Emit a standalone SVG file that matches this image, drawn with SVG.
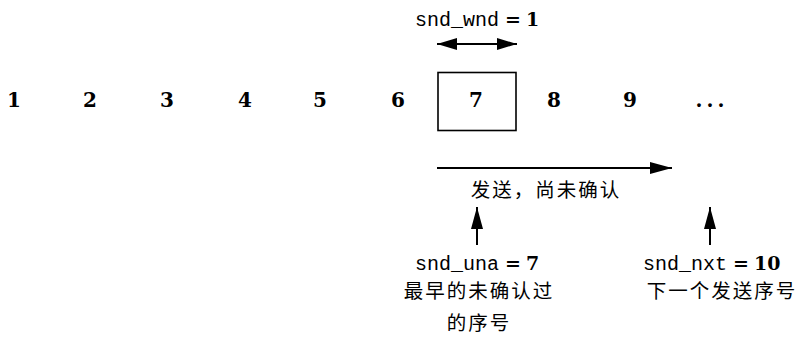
<svg xmlns="http://www.w3.org/2000/svg" width="804" height="339" viewBox="0 0 804 339">
<style>
.num{font-family:"DejaVu Serif","Liberation Serif",serif;font-weight:bold;font-size:20px;text-anchor:middle;fill:#000}
.mono{font-family:"Liberation Mono","DejaVu Sans Mono",monospace;font-size:20px;fill:#000}
.eq{font-family:"DejaVu Serif","Liberation Serif",serif;font-size:19px;font-weight:bold}
.cjk{font-family:"Noto Sans CJK SC","Noto Sans",sans-serif;font-size:19.5px;fill:#000;text-anchor:middle}
.line{stroke:#000;stroke-width:2;fill:none}
</style>
<defs>
<marker id="ah" viewBox="0 0 20 12" refX="20" refY="6" markerWidth="20" markerHeight="12" markerUnits="userSpaceOnUse" orient="auto-start-reverse">
<path d="M0,0 L20,6 L0,12 Z" fill="#000"/>
</marker>
<marker id="au" viewBox="0 0 22 12" refX="22" refY="6" markerWidth="22" markerHeight="12" markerUnits="userSpaceOnUse" orient="auto">
<path d="M0,0 L22,6 L0,12 Z" fill="#000"/>
</marker>
</defs>
<rect width="804" height="339" fill="#fff"/>
<g id="wnd-label">
<text x="415" y="26"><tspan class="mono">snd_wnd</tspan><tspan class="eq" dx="6">=</tspan><tspan class="eq" dx="5">1</tspan></text>
</g>
<g id="n1"><text class="num" x="14" y="107">1</text></g>
<g id="n2"><text class="num" x="90" y="107">2</text></g>
<g id="n3"><text class="num" x="167" y="107">3</text></g>
<g id="n4"><text class="num" x="245" y="107">4</text></g>
<g id="n5"><text class="num" x="320" y="107">5</text></g>
<g id="n6"><text class="num" x="398" y="107">6</text></g>
<g id="n7"><rect x="438" y="72.5" width="78" height="58" fill="none" stroke="#000" stroke-width="1.6"/><text class="num" x="476" y="107">7</text></g>
<g id="n8"><text class="num" x="554" y="107">8</text></g>
<g id="n9"><text class="num" x="630" y="107">9</text></g>
<g id="ndots"><text class="num" x="712" y="107" letter-spacing="4">...</text></g>
<g id="sent-label"><text class="cjk" x="546" y="197" letter-spacing="2">发送，尚未确认</text></g>
<g id="una">
<text x="415" y="270"><tspan class="mono">snd_una</tspan><tspan class="eq" dx="6">=</tspan><tspan class="eq" dx="5">7</tspan></text>
<text class="cjk" x="479" y="298" letter-spacing="2">最早的未确认过</text>
<text class="cjk" x="479" y="330" letter-spacing="2">的序号</text>
</g>
<g id="nxt">
<text x="643" y="270"><tspan class="mono">snd_nxt</tspan><tspan class="eq" dx="6">=</tspan><tspan class="eq" dx="5">10</tspan></text>
<text class="cjk" x="722" y="298" letter-spacing="2">下一个发送序号</text>
</g>
<g id="connectors">
<line class="line" x1="437" y1="44" x2="517" y2="44" marker-start="url(#ah)" marker-end="url(#ah)"/>
<line class="line" x1="437" y1="168" x2="672" y2="168" marker-end="url(#au)"/>
<line class="line" x1="477" y1="245" x2="477" y2="207" marker-end="url(#au)"/>
<line class="line" x1="710" y1="245" x2="710" y2="207" marker-end="url(#au)"/>
</g>
</svg>
